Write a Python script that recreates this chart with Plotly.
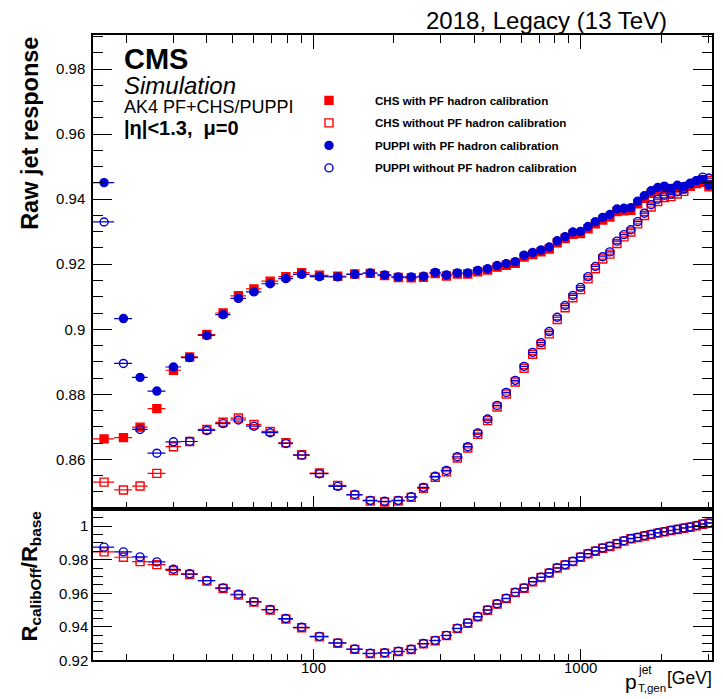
import math
import plotly.graph_objects as go

# ---------------- data ----------------
pt_edges = [15, 18, 21, 24, 28, 32, 37, 43, 49, 56, 64, 74, 84, 97, 114, 133, 153, 174, 196,
            220, 245, 272, 300, 330, 362, 395, 430, 468, 507, 548, 592, 638, 686, 737, 790,
            846, 905, 967, 1032, 1101, 1172, 1248, 1327, 1410, 1497, 1588, 1684, 1784, 1890,
            2000, 2116, 2238, 2366, 2500, 2640, 2787, 2941, 3103]

chs_on = [0.8663, 0.8667, 0.8699, 0.8756, 0.8874, 0.8915, 0.8984, 0.9050, 0.9103, 0.9124,
          0.9148, 0.9162, 0.9174, 0.9166, 0.9163, 0.9170, 0.9172, 0.9165, 0.9159, 0.9158,
          0.9160, 0.9171, 0.9164, 0.9170, 0.9170, 0.9177, 0.9182, 0.9191, 0.9197, 0.9203,
          0.9222, 0.9230, 0.9238, 0.9247, 0.9266, 0.9279, 0.9292, 0.9294, 0.9309, 0.9324,
          0.9336, 0.9345, 0.9362, 0.9364, 0.9366, 0.9386, 0.9403, 0.9418, 0.9428, 0.9433,
          0.9426, 0.9435, 0.9432, 0.9441, 0.9448, 0.9452, 0.9438]

chs_off = [0.8530, 0.8506, 0.8518, 0.8557, 0.8639, 0.8655, 0.8692, 0.8714, 0.8727, 0.8707,
           0.8686, 0.8651, 0.8614, 0.8558, 0.8520, 0.8490, 0.8472, 0.8469, 0.8472, 0.8483,
           0.8511, 0.8545, 0.8562, 0.8604, 0.8635, 0.8677, 0.8719, 0.8761, 0.8801, 0.8838,
           0.8880, 0.8923, 0.8953, 0.8986, 0.9030, 0.9066, 0.9097, 0.9122, 0.9155, 0.9186,
           0.9216, 0.9231, 0.9264, 0.9284, 0.9299, 0.9324, 0.9350, 0.9376, 0.9393, 0.9405,
           0.9408, 0.9416, 0.9424, 0.9440, 0.9449, 0.9460, 0.9458]

puppi_on = [0.9451, 0.9033, 0.8852, 0.8810, 0.8884, 0.8913, 0.8981, 0.9045, 0.9095, 0.9115,
            0.9140, 0.9156, 0.9169, 0.9162, 0.9161, 0.9169, 0.9173, 0.9167, 0.9161, 0.9161,
            0.9163, 0.9175, 0.9167, 0.9173, 0.9173, 0.9181, 0.9186, 0.9196, 0.9202, 0.9208,
            0.9228, 0.9236, 0.9244, 0.9253, 0.9272, 0.9285, 0.9299, 0.9301, 0.9316, 0.9331,
            0.9344, 0.9353, 0.9370, 0.9372, 0.9374, 0.9394, 0.9411, 0.9426, 0.9436, 0.9440,
            0.9433, 0.9443, 0.9439, 0.9449, 0.9457, 0.9461, 0.9444]

puppi_off = [0.9330, 0.8895, 0.8692, 0.8619, 0.8654, 0.8655, 0.8689, 0.8710, 0.8721, 0.8702,
             0.8682, 0.8649, 0.8613, 0.8556, 0.8517, 0.8492, 0.8474, 0.8471, 0.8474, 0.8485,
             0.8514, 0.8548, 0.8566, 0.8608, 0.8639, 0.8681, 0.8724, 0.8766, 0.8806, 0.8843,
             0.8886, 0.8929, 0.8959, 0.8993, 0.9037, 0.9073, 0.9104, 0.9129, 0.9162, 0.9193,
             0.9223, 0.9238, 0.9271, 0.9291, 0.9306, 0.9331, 0.9357, 0.9383, 0.9400, 0.9412,
             0.9415, 0.9423, 0.9431, 0.9447, 0.9457, 0.9468, 0.9465]

ratio_chs = [0.9847, 0.9815, 0.9789, 0.9771, 0.9736, 0.9712, 0.9673, 0.9628, 0.9590, 0.9547,
             0.9500, 0.9446, 0.9394, 0.9340, 0.9302, 0.9265, 0.9240, 0.9243, 0.9252, 0.9264,
             0.9298, 0.9317, 0.9347, 0.9389, 0.9421, 0.9459, 0.9499, 0.9535, 0.9568, 0.9604,
             0.9630, 0.9668, 0.9694, 0.9720, 0.9750, 0.9769, 0.9789, 0.9815, 0.9835, 0.9851,
             0.9869, 0.9879, 0.9895, 0.9911, 0.9925, 0.9932, 0.9942, 0.9950, 0.9959, 0.9966,
             0.9974, 0.9980, 0.9988, 0.9994, 1.0002, 1.0012, 1.0018]

ratio_puppi = [0.9875, 0.9847, 0.9817, 0.9787, 0.9743, 0.9716, 0.9676, 0.9632, 0.9594, 0.9550,
               0.9503, 0.9449, 0.9397, 0.9343, 0.9304, 0.9267, 0.9242, 0.9245, 0.9254, 0.9266,
               0.9300, 0.9319, 0.9349, 0.9391, 0.9423, 0.9461, 0.9501, 0.9537, 0.9570, 0.9606,
               0.9632, 0.9670, 0.9696, 0.9722, 0.9752, 0.9771, 0.9791, 0.9817, 0.9837, 0.9853,
               0.9871, 0.9881, 0.9897, 0.9913, 0.9927, 0.9934, 0.9944, 0.9952, 0.9961, 0.9968,
               0.9976, 0.9982, 0.9990, 0.9996, 1.0004, 1.0014, 1.0020]

top_ticks = [0.86, 0.88, 0.90, 0.92, 0.94, 0.96, 0.98]
top_ticktext = ["0.86", "0.88", "0.9", "0.92", "0.94", "0.96", "0.98"]
bot_ticks = [0.92, 0.94, 0.96, 0.98, 1.00]
bot_ticktext = ["0.92", "0.94", "0.96", "0.98", "1"]
x_ticks = [100, 1000]
x_ticktext = ["100", "1000"]
x_minor = [20, 30, 40, 50, 60, 70, 80, 90, 200, 300, 400, 500, 600, 700, 800, 900, 2000, 3000]

# ---------------- helpers ----------------
lo = pt_edges[:-1]
hi = pt_edges[1:]
xc = [(a + b) / 2 for a, b in zip(lo, hi)]
ex_plus = [b - c for b, c in zip(hi, xc)]
ex_minus = [c - a for a, c in zip(lo, xc)]

RED = "rgb(255,0,0)"
BLUE = "rgb(0,0,210)"
FONT = "Liberation Sans, Arial, Helvetica, sans-serif"

W, H = 723, 699
KY = 1.0105  # small vertical stretch of the layout grid
def px(x):
    return x / W
def py(y):
    return 1 - y * KY / H

fig = go.Figure()

def add(y, name, symbol, color, xa, ya, show, size):
    fig.add_trace(go.Scatter(
        x=xc, y=y, mode="markers", name=name, showlegend=show, legendgroup=name,
        xaxis=xa, yaxis=ya,
        marker=dict(symbol=symbol, size=size, color=color,
                    line=dict(color=color, width=1.4)),
        error_x=dict(type="data", symmetric=False, array=ex_plus, arrayminus=ex_minus,
                     color=color, thickness=1.2, width=0),
    ))

add(chs_on, "CHS with PF hadron calibration", "square", RED, "x", "y", True, 8)
add(chs_off, "CHS without PF hadron calibration", "square-open", RED, "x", "y", True, 8)
add(puppi_on, "PUPPI with PF hadron calibration", "circle", BLUE, "x", "y", True, 8)
add(puppi_off, "PUPPI without PF hadron calibration", "circle-open", BLUE, "x", "y", True, 8)
add(ratio_chs, "ratio CHS", "square-open", RED, "x2", "y2", False, 8)
add(ratio_puppi, "ratio PUPPI", "circle-open", BLUE, "x2", "y2", False, 8)

xdom = [px(93), px(712)]
top_dom = [py(510), py(35)]
bot_dom = [py(661), py(510)]
xr = [math.log10(15), math.log10(3103)]

axis_common = dict(showgrid=False, zeroline=False, showline=True, linecolor="black",
                   linewidth=1.5, ticks="inside", tickcolor="black", tickwidth=1,
                   tickfont=dict(family=FONT, size=15, color="black"))

fig.update_layout(
    width=W, height=H, margin=dict(l=0, r=0, t=0, b=0),
    paper_bgcolor="white", plot_bgcolor="white",
    font=dict(family=FONT, color="black"),
    xaxis=dict(domain=xdom, anchor="y", type="log", range=xr, tickvals=x_ticks,
               showticklabels=False, ticklen=14, mirror="allticks",
               minor=dict(tickvals=x_minor, ticklen=8, ticks="inside", tickcolor="black"),
               **axis_common),
    yaxis=dict(domain=top_dom, anchor="x", range=[0.8446, 0.9905], tickvals=top_ticks,
               ticktext=top_ticktext, ticklen=19, mirror="allticks", ticklabelstandoff=3,
               minor=dict(dtick=0.005, tick0=0.84, ticklen=10, ticks="inside", tickcolor="black"),
               **axis_common),
    xaxis2=dict(domain=xdom, anchor="y2", type="log", range=xr, tickvals=x_ticks,
                showticklabels=False, ticklen=12, mirror=True,
                minor=dict(tickvals=x_minor, ticklen=7, ticks="inside", tickcolor="black"),
                **axis_common),
    yaxis2=dict(domain=bot_dom, anchor="x2", range=[0.92, 1.0100], tickvals=bot_ticks,
                ticktext=bot_ticktext, ticklen=19, mirror="allticks",
                minor=dict(dtick=0.005, tick0=0.92, ticklen=10, ticks="inside", tickcolor="black"),
                **axis_common),
    legend=dict(x=px(283), y=py(86), xanchor="left", yanchor="top",
                bgcolor="rgba(0,0,0,0)", borderwidth=0, itemwidth=82,
                tracegroupgap=3.5,
                font=dict(family=FONT, size=11.6, color="black", weight="bold")),
)

ann = []
def text(x, y, t, size, xanchor="left", yanchor="middle", bold=False, italic=False, angle=0):
    s = t
    if bold:
        s = "<b>" + s + "</b>"
    if italic:
        s = "<i>" + s + "</i>"
    ann.append(dict(x=px(x), y=py(y), xref="paper", yref="paper", text=s, showarrow=False,
                    xanchor=xanchor, yanchor=yanchor, textangle=angle,
                    font=dict(family=FONT, size=size, color="black")))

# x tick labels of the ratio panel, placed on the log axis at their tick values
for v, t in zip(x_ticks, x_ticktext):
    ann.append(dict(x=math.log10(v), xref="x2", y=py(668), yref="paper", text=t,
                    showarrow=False, xanchor="center", yanchor="middle",
                    font=dict(family=FONT, size=15, color="black")))

text(669, 21, "2018, Legacy (13 TeV)", 24, xanchor="right")
text(122, 59, "CMS", 29, bold=True)
text(122, 86, "Simulation", 24, italic=True)
text(122, 107, "AK4 PF+CHS/PUPPI", 18)
text(122, 128, "|η|<1.3,  μ=0", 20, bold=True)
text(30, 134, "Raw jet response", 23.5, xanchor="center", yanchor="middle", bold=True, angle=-90)
text(31, 577, "R<sub>calibOff</sub>/R<sub>base</sub>", 22, xanchor="center", yanchor="middle",
     bold=True, angle=-90)
# x title
text(639, 682, "p", 21, xanchor="right")
text(636, 689, "T,gen", 11.5)
text(636, 671, "jet", 12)
text(714, 679, "[GeV]", 17.5, xanchor="right")

fig.update_layout(annotations=ann)
# remove the browser's default 8px page margin so the figure sits at the window origin
fig.write_html("out.html", config={"displayModeBar": False},
               post_script="document.body.style.margin='0';")
